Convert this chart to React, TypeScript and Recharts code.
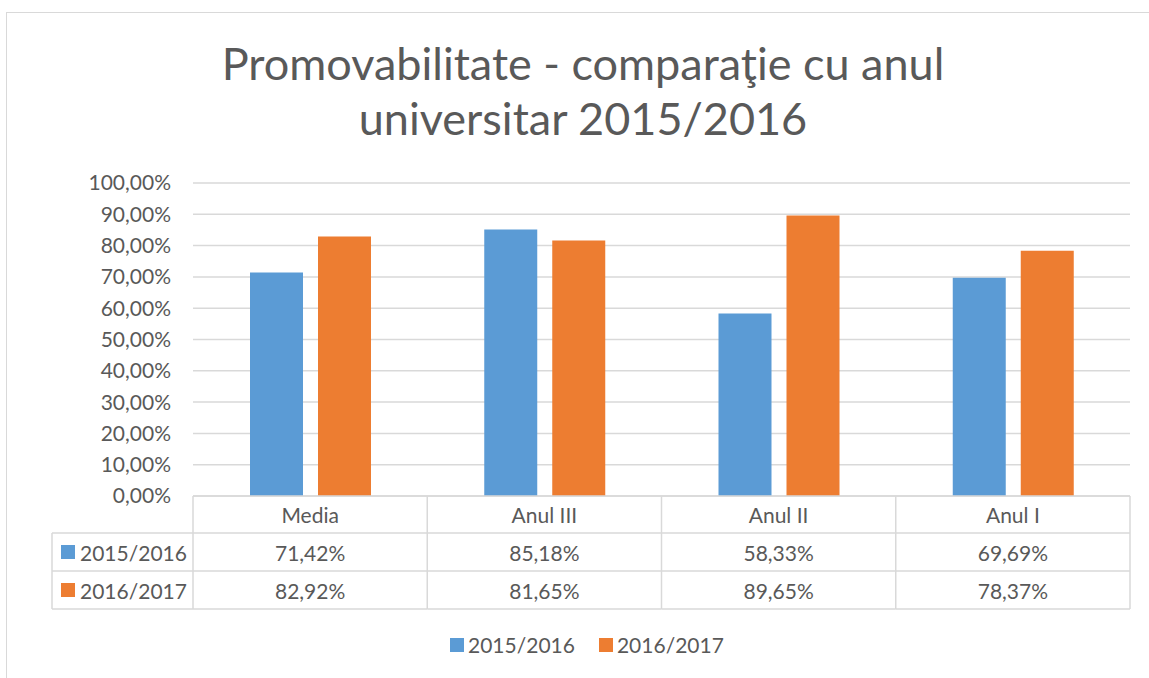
import { BarChart, Bar, XAxis, YAxis, CartesianGrid } from 'recharts'

const categories = ['Media', 'Anul III', 'Anul II', 'Anul I']
const values2015 = [71.42, 85.18, 58.33, 69.69]
const values2016 = [82.92, 81.65, 89.65, 78.37]
const seriesNames = ['2015/2016', '2016/2017']
const seriesColors = ['#5B9BD5', '#ED7D31']
const yTicks = [0, 10, 20, 30, 40, 50, 60, 70, 80, 90, 100]
const titleLines = ['Promovabilitate - comparaţie cu anul', 'universitar 2015/2016']

const data = categories.map((name, i) => ({
    name,
    a: values2015[i],
    b: values2016[i],
}))
const seriesValues = [values2015, values2016]

const W = 1149
const H = 678
const PLOT_LEFT = 193
const PLOT_RIGHT = 1130
const PLOT_TOP = 183
const PLOT_BOTTOM = 496
const BAND = (PLOT_RIGHT - PLOT_LEFT) / categories.length
const ROW1 = 533
const ROW2 = 571
const TABLE_BOTTOM = 609
const TABLE_LEFT = 52
const FONT = 'Lato, "Open Sans", sans-serif'
const FS = 21
const TEXT = '#595959'
const LINE = '#d9d9d9'

const fmtAxis = (v: number) => `${v.toFixed(2).replace('.', ',')}%`

const TableTick = ({ x, payload, index }: any) => {
    const left = x - BAND / 2
    const right = x + BAND / 2
    const i = index
    return (
        <g fontFamily={FONT} fontSize={FS} fill={TEXT}>
            {i === 0 && (
                <g>
                    <line x1={left} x2={left} y1={PLOT_BOTTOM} y2={TABLE_BOTTOM} stroke={LINE} strokeWidth={1.5} />
                    <line x1={TABLE_LEFT} x2={TABLE_LEFT} y1={ROW1} y2={TABLE_BOTTOM} stroke={LINE} strokeWidth={1.5} />
                    <line x1={TABLE_LEFT} x2={left} y1={ROW1} y2={ROW1} stroke={LINE} strokeWidth={1.5} />
                    <line x1={TABLE_LEFT} x2={left} y1={ROW2} y2={ROW2} stroke={LINE} strokeWidth={1.5} />
                    <line x1={TABLE_LEFT} x2={left} y1={TABLE_BOTTOM} y2={TABLE_BOTTOM} stroke={LINE} strokeWidth={1.5} />
                    {seriesNames.map((s, k) => {
                        const cy = k === 0 ? (ROW1 + ROW2) / 2 : (ROW2 + TABLE_BOTTOM) / 2
                        return (
                            <g key={s}>
                                <rect x={61} y={cy - 7} width={14} height={14} fill={seriesColors[k]} />
                                <text x={80} y={cy} dominantBaseline="central" fill={TEXT}>{s}</text>
                            </g>
                        )
                    })}
                </g>
            )}
            <line x1={right} x2={right} y1={PLOT_BOTTOM} y2={TABLE_BOTTOM} stroke={LINE} strokeWidth={1.5} />
            <line x1={left} x2={right} y1={ROW1} y2={ROW1} stroke={LINE} strokeWidth={1.5} />
            <line x1={left} x2={right} y1={ROW2} y2={ROW2} stroke={LINE} strokeWidth={1.5} />
            <line x1={left} x2={right} y1={TABLE_BOTTOM} y2={TABLE_BOTTOM} stroke={LINE} strokeWidth={1.5} />
            <text x={x} y={(PLOT_BOTTOM + ROW1) / 2} textAnchor="middle" dominantBaseline="central" fill={TEXT}>
                {payload.value}
            </text>
            {seriesValues.map((vals, k) => (
                <text
                    key={k}
                    x={x}
                    y={k === 0 ? (ROW1 + ROW2) / 2 : (ROW2 + TABLE_BOTTOM) / 2}
                    textAnchor="middle"
                    dominantBaseline="central"
                    fill={TEXT}
                >
                    {vals[i].toFixed(2).replace('.', ',')}%
                </text>
            ))}
        </g>
    )
}

export default function App() {
    return (
        <div style={{ position: 'absolute', left: 0, top: 0, width: W, height: H, background: '#fff', overflow: 'hidden' }}>
            <div
                style={{
                    position: 'absolute',
                    left: 6,
                    top: 12,
                    width: W,
                    height: H,
                    borderLeft: `1.5px solid ${LINE}`,
                    borderTop: `1.5px solid ${LINE}`,
                }}
            />
            <svg width={W} height={160} style={{ position: 'absolute', left: 0, top: 0 }}>
                {titleLines.map((t, k) => (
                    <text
                        key={k}
                        x={583}
                        y={80 + k * 55}
                        textAnchor="middle"
                        fontFamily={FONT}
                        fontSize={45}
                        fill={TEXT}
                    >
                        {t}
                    </text>
                ))}
            </svg>
            <div style={{ position: 'absolute', left: 0, top: 0 }}>
                <BarChart
                    width={W}
                    height={H}
                    data={data}
                    margin={{ top: PLOT_TOP, right: W - PLOT_RIGHT, left: 0, bottom: 0 }}
                    barSize={53}
                    barGap={15}
                >
                    <CartesianGrid vertical={false} stroke={LINE} strokeWidth={1.5} />
                    <YAxis
                        width={PLOT_LEFT}
                        domain={[0, 100]}
                        ticks={yTicks}
                        tickFormatter={fmtAxis}
                        axisLine={false}
                        tickLine={false}
                        tickSize={0}
                        tickMargin={22}
                        tick={{ fill: TEXT, fontSize: FS, fontFamily: FONT }}
                    />
                    <XAxis
                        dataKey="name"
                        height={H - PLOT_BOTTOM}
                        axisLine={{ stroke: LINE, strokeWidth: 1.5 }}
                        tickLine={false}
                        interval={0}
                        tick={<TableTick />}
                    />
                    <Bar dataKey="a" name={seriesNames[0]} fill={seriesColors[0]} isAnimationActive={false} />
                    <Bar dataKey="b" name={seriesNames[1]} fill={seriesColors[1]} isAnimationActive={false} />
                </BarChart>
            </div>
            <div
                style={{
                    position: 'absolute',
                    left: 450,
                    top: 632,
                    display: 'flex',
                    alignItems: 'center',
                    fontFamily: FONT,
                    fontSize: FS,
                    color: TEXT,
                }}
            >
                {seriesNames.map((s, k) => (
                    <div key={s} style={{ display: 'flex', alignItems: 'center', marginRight: 24 }}>
                        <span style={{ display: 'inline-block', width: 14, height: 14, background: seriesColors[k], marginRight: 4 }} />
                        <span>{s}</span>
                    </div>
                ))}
            </div>
        </div>
    )
}
